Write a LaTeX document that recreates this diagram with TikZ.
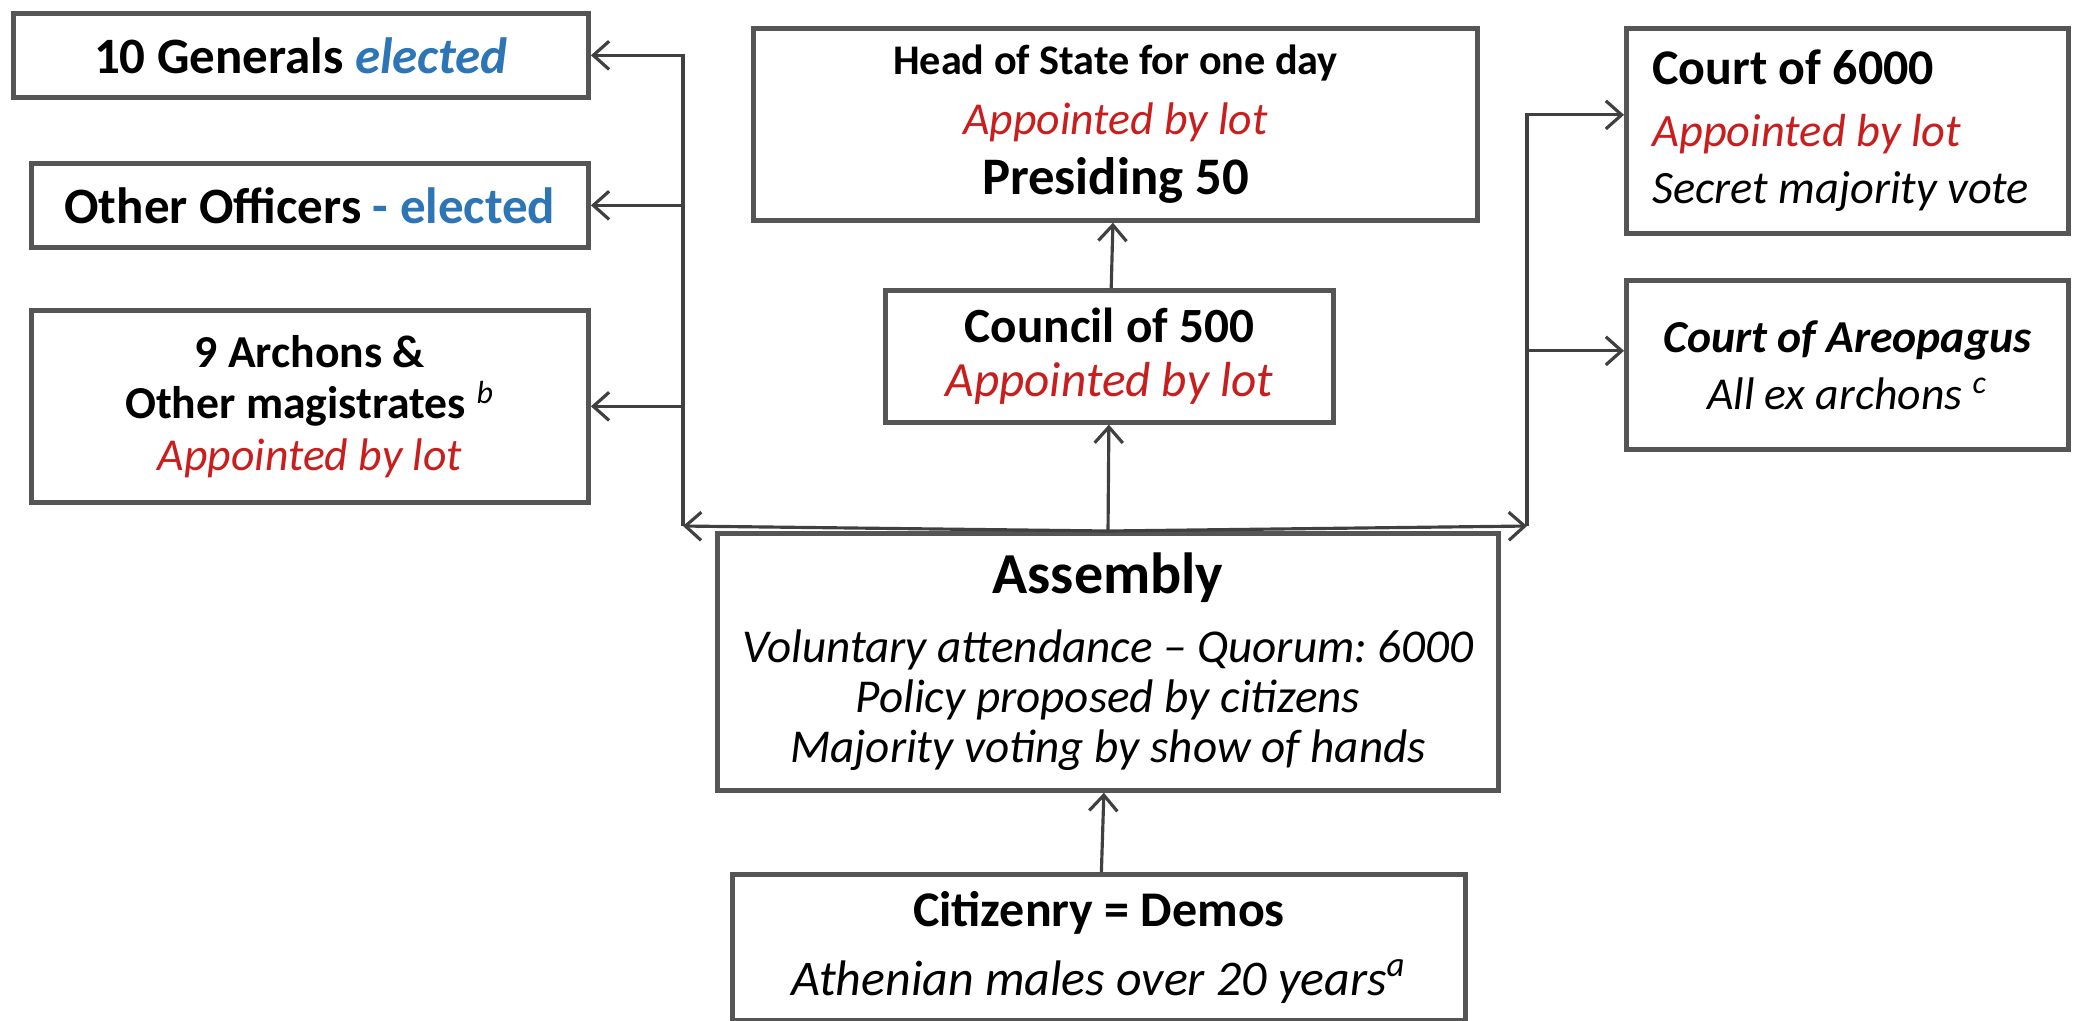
\documentclass[tikz,border=0pt]{standalone}
\usepackage{fontspec}
\setmainfont{Carlito}
\usetikzlibrary{arrows.meta}
\definecolor{lotred}{RGB}{200,30,30}
\definecolor{voteblue}{RGB}{46,117,182}
\definecolor{boxgray}{RGB}{85,85,85}
\tikzset{
  x=0.01cm, y=-0.01cm,
  box/.style={draw=boxgray, line width=1.3pt, fill=white, anchor=north west,
    align=center, inner sep=0pt, font=\fontsize{13}{16}\selectfont},
  link/.style={draw=black!75, line width=0.9pt, -{Straight Barb[length=4.5pt,width=8pt]}},
}
\newcommand\bylot{\textcolor{lotred}{\itshape Appointed by lot}}
\begin{document}
\frenchspacing
\begin{tikzpicture}
\useasboundingbox (0,0) rectangle (2073,1020);
% left column
\node[box, minimum width=5.75cm, minimum height=0.84cm] (generals) at (11,11)
  {\fontsize{14.5}{17}\selectfont\bfseries 10 Generals \textcolor{voteblue}{\itshape elected}};
\node[box, minimum width=5.57cm, minimum height=0.84cm] (officers) at (29,161)
  {\fontsize{14.5}{17}\selectfont\bfseries Other Officers \textcolor{voteblue}{- elected}};
\node[box, minimum width=5.57cm, minimum height=1.92cm, font=\fontsize{13}{14.7}\selectfont] (archons) at (29,308)
  {\bfseries 9 Archons \&\\ \bfseries Other magistrates \textsuperscript{\mdseries\itshape b}\\ \bylot};
% centre column
\node[box, minimum width=7.24cm, minimum height=1.92cm, font=\fontsize{12}{17}\selectfont] (head) at (751,26)
  {\bfseries Head of State for one day\\ {\fontsize{13}{15}\selectfont\bylot}\\ {\fontsize{15}{18}\selectfont\bfseries Presiding 50}};
\node[box, minimum width=4.48cm, minimum height=1.32cm, font=\fontsize{14}{15.5}\selectfont] (council) at (883,288)
  {\bfseries Council of 500\\ \bylot};
\node[box, minimum width=7.81cm, minimum height=2.57cm, font=\fontsize{13.4}{14.3}\selectfont] (assembly) at (715,531)
  {{\fontsize{16.5}{18}\selectfont\bfseries Assembly}\\[5.2pt] \itshape Voluntary attendance -- Quorum: 6000\\
   \itshape Policy proposed by citizens\\ \itshape Majority voting by show of hands};
\node[box, minimum width=7.33cm, minimum height=1.46cm, font=\fontsize{14.2}{19.5}\selectfont] (demos) at (730,872)
  {\bfseries Citizenry = Demos\\ \itshape Athenian males over 20 years\textsuperscript{a}};
% right column
\node[box, minimum width=4.42cm, minimum height=2.05cm, align=flush left, text width=3.9cm, font=\fontsize{13.2}{16.3}\selectfont] (court) at (1624,26)
  {{\fontsize{14.2}{17}\selectfont\bfseries Court of 6000}\\[1.2pt] \bylot\\ \itshape Secret majority vote};
\node[box, minimum width=4.42cm, minimum height=1.69cm, font=\fontsize{13}{16.2}\selectfont] (areopagus) at (1624,278)
  {\bfseries\itshape Court of Areopagus\\ \itshape All ex archons \textsuperscript{c}};
% connectors
\coordinate (hub) at (assembly.north);
\coordinate (busL) at (683,526);
\coordinate (busR) at (1527,526);
\draw[link] (demos) -- (assembly);
\draw[link] (hub) -- (council);
\draw[link] (council) -- (head);
\draw[link] (hub) -- (busL);
\draw[link] (hub) -- (busR);
\draw[link] (busL) |- (generals);
\draw[link] (busL) |- (officers);
\draw[link] (busL) |- (archons);
\draw[link] (busR) |- ([yshift=0.16cm]court.west);
\draw[link] (busR) |- ([yshift=0.14cm]areopagus.west);
\end{tikzpicture}
\end{document}
